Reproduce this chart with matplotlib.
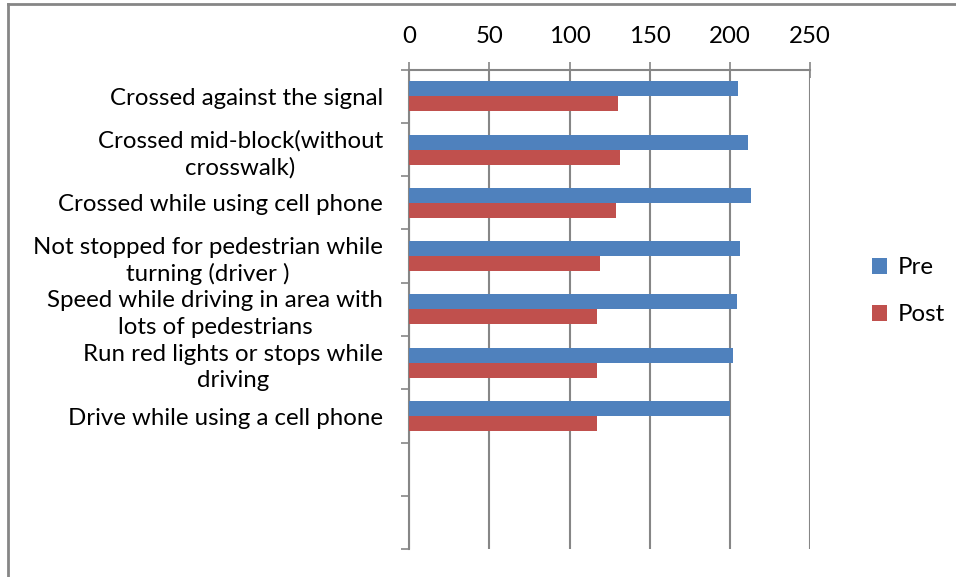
import matplotlib.pyplot as plt
from matplotlib.lines import Line2D
import numpy as np

plt.rcParams['font.family'] = ['Lato', 'DejaVu Sans']

# survey categories, top to bottom (last two slots are empty in the original)
categories = [
    "Crossed against the signal",
    "Crossed mid-block(without\ncrosswalk)",
    "Crossed while using cell phone",
    "Not stopped for pedestrian while\nturning (driver )",
    "Speed while driving in area with\nlots of pedestrians",
    "Run red lights or stops while\ndriving",
    "Drive while using a cell phone",
    "",
    "",
]
pre = [205.4, 211.5, 213.6, 206.5, 204.4, 202.3, 200.4, 0, 0]
post = [130.2, 131.3, 129.2, 119.2, 117.1, 117.0, 117.0, 0, 0]
xticks = [0, 50, 100, 150, 200, 250]

blue = "#4F81BD"
red = "#C0504D"
grey = "#868686"
fs = 17.3

fig = plt.figure(figsize=(9.56, 5.77), dpi=100)
ax = fig.add_axes([0.4282, 0.0480, 0.4188, 0.8314])

y = np.arange(len(categories))
h = 0.281
ax.barh(y - h / 2, pre, height=h, color=blue, label="Pre", zorder=3)
ax.barh(y + h / 2, post, height=h, color=red, label="Post", zorder=3)

ax.set_xlim(0, 250)
ax.set_ylim(len(categories) - 0.5, -0.5)
ax.set_xticks(xticks)
ax.xaxis.tick_top()
ax.tick_params(axis='x', which='major', direction='inout', length=12, width=1.2,
               color=grey, labelsize=fs, pad=10)
ax.grid(axis='x', color=grey, linewidth=1.5, zorder=0)

# category ticks sit on slot boundaries, labels in the slot centres
ax.set_yticks(np.arange(len(categories) + 1) - 0.5)
ax.set_yticklabels([])
ax.set_yticks(y, minor=True)
ax.set_yticklabels(categories, minor=True, fontsize=fs)
ax.tick_params(axis='y', which='major', direction='out', length=6, width=1.2, color=grey)
ax.tick_params(axis='y', which='minor', length=0, pad=19)
for t in ax.get_yticklabels(minor=True):
    t.set_multialignment('center')
    t.set_linespacing(1.32)

for side in ['right', 'bottom']:
    ax.spines[side].set_visible(False)
for side in ['left', 'top']:
    ax.spines[side].set_color(grey)
    ax.spines[side].set_linewidth(1.5)

ax.legend(loc='center left', bbox_to_anchor=(0.890, 0.495), bbox_transform=fig.transFigure,
          frameon=False, fontsize=fs, handlelength=0.6, handleheight=0.6,
          handletextpad=0.45, labelspacing=1.08)

# chart-area border (only left and top edges are inside the picture)
fig.add_artist(Line2D([7.5 / 956, 7.5 / 956], [0, 1 - 3.5 / 577], color=grey, linewidth=2))
fig.add_artist(Line2D([7.5 / 956, 1], [1 - 3.5 / 577, 1 - 3.5 / 577], color=grey, linewidth=2))

fig.savefig("out.png", dpi=100)
